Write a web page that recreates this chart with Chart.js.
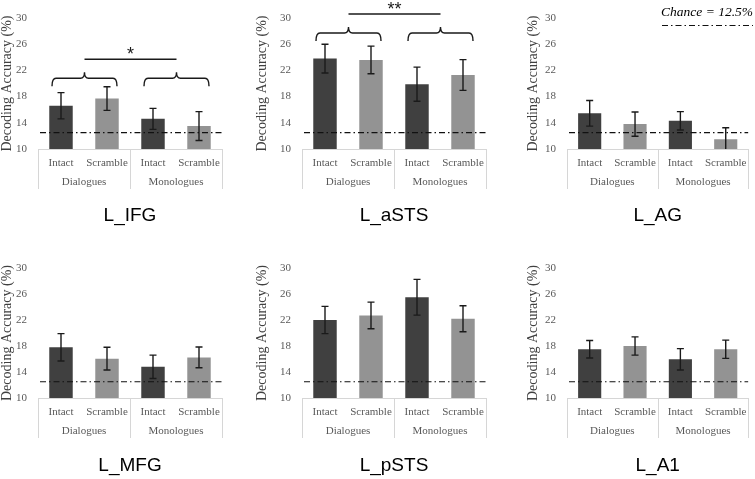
<!DOCTYPE html>
<html><head><meta charset="utf-8">
<script src="https://cdn.jsdelivr.net/npm/chart.js@4"></script>
<style>
html,body{margin:0;padding:0;background:#fff}
body{width:755px;height:479px;position:relative;overflow:hidden}
.p{position:absolute}
</style></head><body>
<div class="p" style="left:0;top:0;width:250px;height:240px"><canvas id="c0"></canvas></div>
<div class="p" style="left:250px;top:0;width:250px;height:240px"><canvas id="c1"></canvas></div>
<div class="p" style="left:500px;top:0;width:255px;height:240px"><canvas id="c2"></canvas></div>
<div class="p" style="left:0;top:250px;width:250px;height:229px"><canvas id="c3"></canvas></div>
<div class="p" style="left:250px;top:250px;width:250px;height:229px"><canvas id="c4"></canvas></div>
<div class="p" style="left:500px;top:250px;width:255px;height:229px"><canvas id="c5"></canvas></div>
<script>
// ---- data ----
const conditions = ['Intact', 'Scramble', 'Intact', 'Scramble'];
const groups = ['Dialogues', 'Monologues'];
const yTicks = [10, 14, 18, 22, 26, 30];
const chance = 12.5;
const chanceLabel = 'Chance = 12.5%';
const yTitle = 'Decoding Accuracy (%)';

const L_IFG_mean  = [16.6, 17.7, 14.6, 13.5];
const L_IFG_err   = [2.0, 1.8, 1.6, 2.2];
const L_aSTS_mean = [23.8, 23.6, 19.9, 21.3];
const L_aSTS_err  = [2.2, 2.1, 2.6, 2.35];
const L_AG_mean   = [15.45, 13.8, 14.3, 11.5];
const L_AG_err    = [1.95, 1.85, 1.4, 1.75];
const L_MFG_mean  = [17.8, 16.05, 14.8, 16.25];
const L_MFG_err   = [2.1, 1.75, 1.8, 1.6];
const L_pSTS_mean = [22.0, 22.7, 25.5, 22.2];
const L_pSTS_err  = [2.1, 2.05, 2.75, 2.0];
const L_A1_mean   = [17.5, 18.0, 15.95, 17.5];
const L_A1_err    = [1.35, 1.4, 1.65, 1.4];
const significance = { L_IFG: '*', L_aSTS: '**' };

// ---- layout / style ----
const SERIF = "'Liberation Serif', 'Times New Roman', serif";
const SANS = "'Liberation Sans', Arial, sans-serif";
const barColors = ['#404040', '#939393', '#404040', '#939393'];
const panels = [
  {id:'c0', name:'L_IFG',  mean:L_IFG_mean,  err:L_IFG_err,  axisW:38, padR:28, tPad:0,  row:0, brace:20.8},
  {id:'c1', name:'L_aSTS', mean:L_aSTS_mean, err:L_aSTS_err, axisW:52, padR:14, tPad:5,  row:0, brace:27.7},
  {id:'c2', name:'L_AG',   mean:L_AG_mean,   err:L_AG_err,   axisW:67, padR:4,  tPad:26, row:0, legend:true},
  {id:'c3', name:'L_MFG',  mean:L_MFG_mean,  err:L_MFG_err,  axisW:38, padR:28, tPad:0,  row:1},
  {id:'c4', name:'L_pSTS', mean:L_pSTS_mean, err:L_pSTS_err, axisW:52, padR:14, tPad:5,  row:1},
  {id:'c5', name:'L_A1',   mean:L_A1_mean,   err:L_A1_err,   axisW:67, padR:4,  tPad:26, row:1}
];
const rowCfg = [
  {padB: 50, titleY: 216},
  {padB: 40, titleY: 216}
];

function brace(ctx, x1, x2, yb) {
  const xc = (x1 + x2) / 2, r = 4;
  ctx.beginPath();
  ctx.moveTo(x1, yb + 8);
  ctx.quadraticCurveTo(x1, yb, x1 + r, yb);
  ctx.lineTo(xc - r, yb);
  ctx.quadraticCurveTo(xc, yb, xc, yb - 6);
  ctx.quadraticCurveTo(xc, yb, xc + r, yb);
  ctx.lineTo(x2 - r, yb);
  ctx.quadraticCurveTo(x2, yb, x2, yb + 8);
  ctx.stroke();
  return xc;
}

const deco = {
  id: 'deco',
  afterDatasetsDraw(chart, args, o) {
    const {ctx, chartArea: a, scales: {x, y}} = chart;
    const ds = chart.data.datasets[0];
    ctx.save();
    ctx.beginPath();
    ctx.rect(a.left, a.top, a.right - a.left, a.bottom - a.top);
    ctx.clip();
    // error bars
    ctx.strokeStyle = '#1a1a1a';
    ctx.lineWidth = 1.4;
    ds.data.forEach((v, i) => {
      const e = o.err[i], cx = x.getPixelForValue(i);
      const yt = y.getPixelForValue(v + e), yb = y.getPixelForValue(v - e);
      ctx.beginPath();
      ctx.moveTo(cx, yt); ctx.lineTo(cx, yb);
      ctx.moveTo(cx - 3.5, yt); ctx.lineTo(cx + 3.5, yt);
      ctx.moveTo(cx - 3.5, yb); ctx.lineTo(cx + 3.5, yb);
      ctx.stroke();
    });
    // chance line
    const yc = y.getPixelForValue(chance);
    ctx.setLineDash([6, 3, 1.5, 3]);
    ctx.strokeStyle = '#111';
    ctx.lineWidth = 1.2;
    ctx.beginPath(); ctx.moveTo(a.left + 2, yc); ctx.lineTo(a.right, yc); ctx.stroke();
    ctx.restore();

    // category box
    ctx.save();
    ctx.strokeStyle = '#d6d6d6';
    ctx.lineWidth = 1;
    const mid = (x.getPixelForValue(1) + x.getPixelForValue(2)) / 2;
    const b = a.bottom, h = 40;
    ctx.beginPath();
    ctx.moveTo(a.left, b + 0.5); ctx.lineTo(a.right, b + 0.5);
    [a.left, mid, a.right].forEach(px => { ctx.moveTo(Math.round(px) + 0.5, b); ctx.lineTo(Math.round(px) + 0.5, b + h); });
    ctx.stroke();
    ctx.fillStyle = '#595959';
    ctx.font = '11px ' + SERIF;
    ctx.textAlign = 'center';
    ctx.textBaseline = 'middle';
    groups.forEach((g, gi) => {
      const gx = (x.getPixelForValue(2 * gi) + x.getPixelForValue(2 * gi + 1)) / 2;
      ctx.fillText(g, gx, b + 33);
    });
    ctx.restore();
  },
  afterDraw(chart, args, o) {
    const {ctx, chartArea: a, scales: {x, y}} = chart;
    ctx.save();
    // panel title
    ctx.fillStyle = '#000';
    ctx.font = '19px ' + SANS;
    ctx.textAlign = 'center';
    ctx.textBaseline = 'middle';
    ctx.fillText(o.title, (a.left + a.right) / 2, o.titleY);
    if (o.sig) {
      ctx.strokeStyle = '#1a1a1a';
      ctx.lineWidth = 1.4;
      const yb = y.getPixelForValue(o.brace);
      const c = [0, 1].map(gi => brace(ctx, x.getPixelForValue(2 * gi) - 9, x.getPixelForValue(2 * gi + 1) + 10, yb));
      const yl = yb - 19;
      ctx.beginPath(); ctx.moveTo(c[0], yl); ctx.lineTo(c[1], yl); ctx.stroke();
      ctx.fillStyle = '#1a1a1a';
      ctx.font = '18px ' + SANS;
      ctx.textAlign = 'center';
      ctx.textBaseline = 'alphabetic';
      ctx.fillText(o.sig, (c[0] + c[1]) / 2, yl + 1);
    }
    if (o.legend) {
      const w = chart.width;
      ctx.fillStyle = '#000';
      ctx.font = 'italic 13.5px ' + SERIF;
      ctx.textAlign = 'right';
      ctx.textBaseline = 'middle';
      ctx.fillText(chanceLabel, w - 2, 12);
      ctx.strokeStyle = '#111';
      ctx.lineWidth = 1.2;
      ctx.setLineDash([6, 3, 1.5, 3]);
      ctx.beginPath(); ctx.moveTo(w - 93, 25.5); ctx.lineTo(w - 2, 25.5); ctx.stroke();
    }
    ctx.restore();
  }
};

panels.forEach(p => {
  const rc = rowCfg[p.row];
  new Chart(document.getElementById(p.id), {
    type: 'bar',
    data: {
      labels: conditions,
      datasets: [{
        data: p.mean,
        backgroundColor: barColors,
        borderWidth: 0,
        barPercentage: 0.51,
        categoryPercentage: 1
      }]
    },
    options: {
      responsive: true,
      maintainAspectRatio: false,
      animation: false,
      layout: { padding: { left: 0, right: p.padR, top: 18, bottom: rc.padB } },
      plugins: {
        legend: { display: false },
        tooltip: { enabled: false },
        title: { display: false },
        deco: { err: p.err, sig: significance[p.name], brace: p.brace, legend: !!p.legend, title: p.name, titleY: rc.titleY }
      },
      scales: {
        x: {
          grid: { display: false, drawTicks: false },
          border: { display: false },
          ticks: { color: '#595959', font: { family: SERIF, size: 11 }, padding: 8, maxRotation: 0, autoSkip: false },
          afterFit: s => { s.height = 41; }
        },
        y: {
          min: 10, max: 30,
          afterBuildTicks: s => { s.ticks = yTicks.map(v => ({ value: v })); },
          grid: { display: false, drawTicks: false },
          border: { display: false },
          ticks: { color: '#595959', font: { family: SERIF, size: 11 }, padding: 11 },
          title: {
            display: true, text: yTitle, color: '#404040',
            font: { family: SERIF, size: 14, lineHeight: 1 },
            padding: { top: p.tPad, bottom: 0 }
          },
          afterFit: s => { s.width = p.axisW; }
        }
      }
    },
    plugins: [deco]
  });
});
</script>
</body></html>
